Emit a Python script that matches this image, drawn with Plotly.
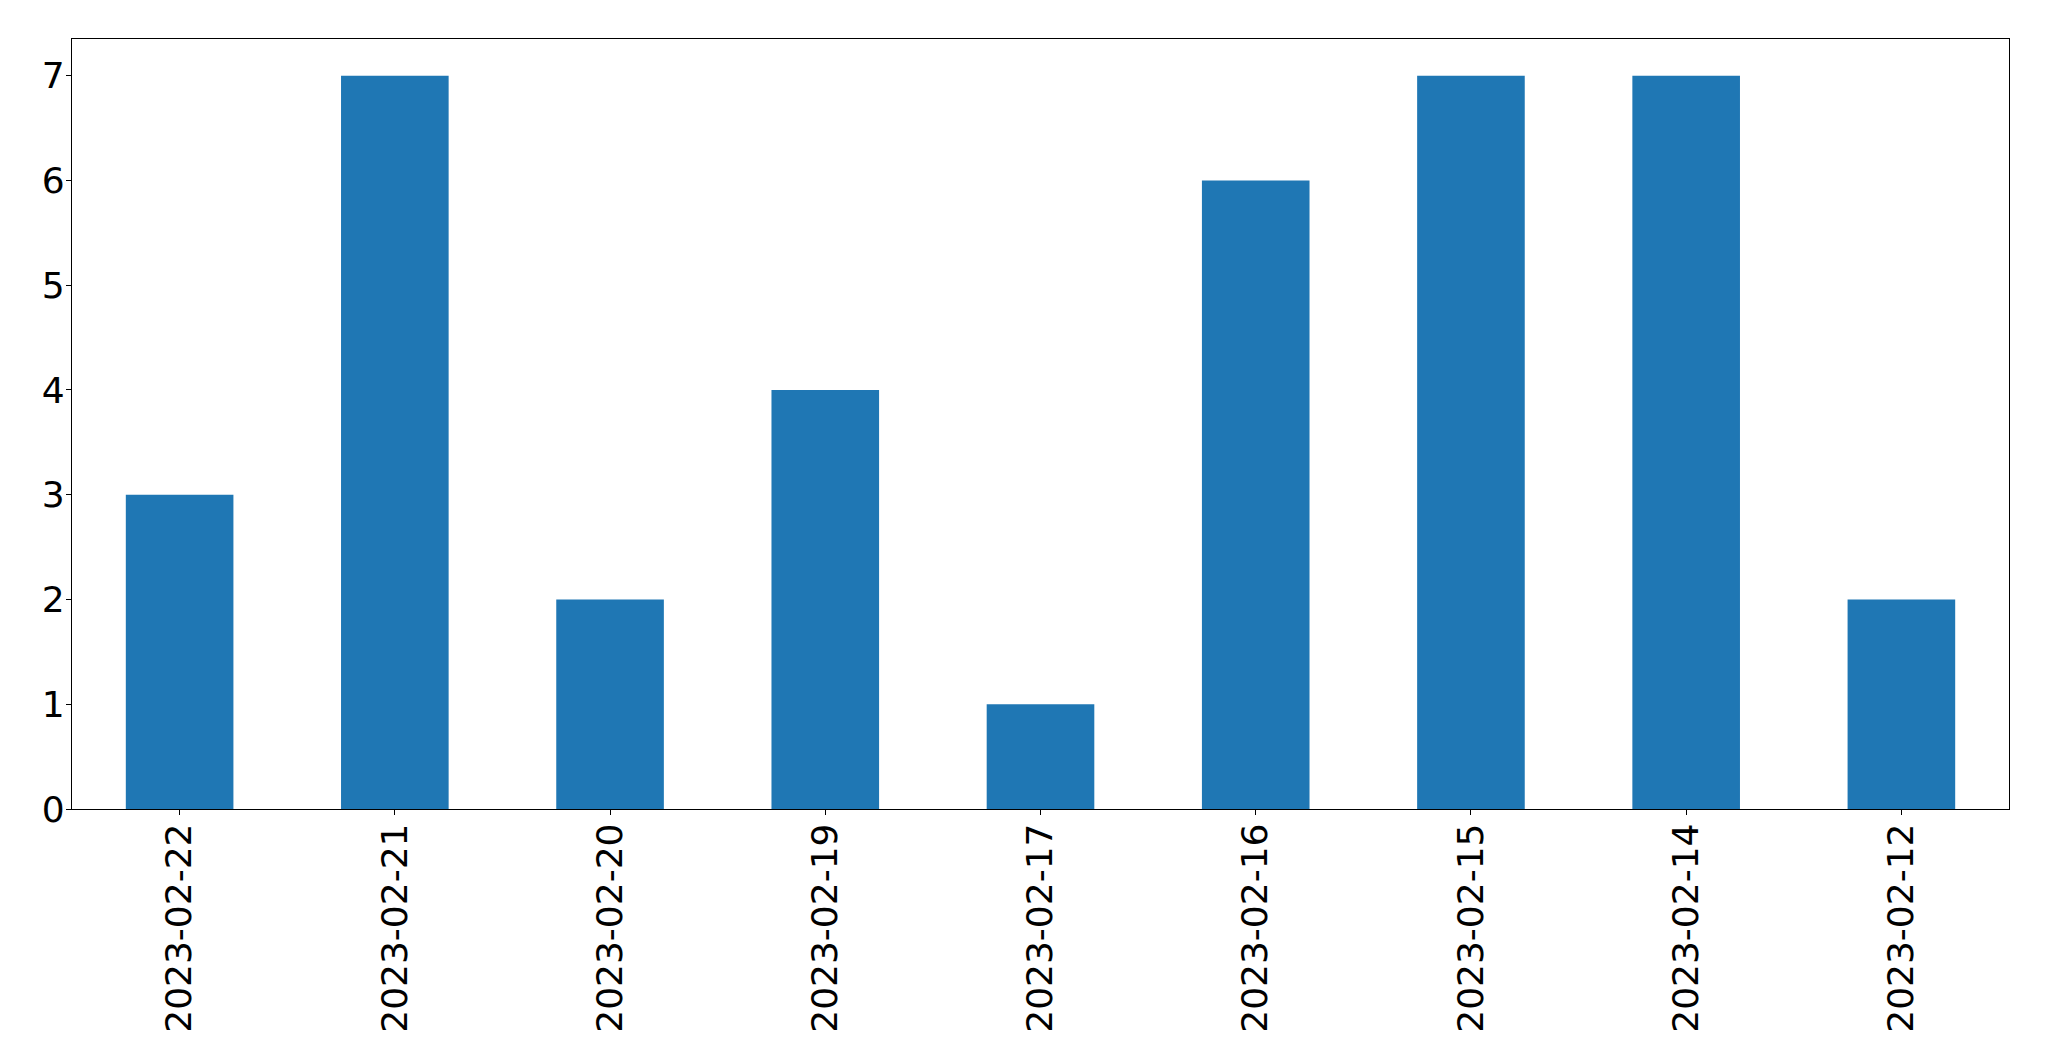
import plotly.graph_objects as go

dates = ["2023-02-22", "2023-02-21", "2023-02-20", "2023-02-19", "2023-02-17",
         "2023-02-16", "2023-02-15", "2023-02-14", "2023-02-12"]
counts = [3, 7, 2, 4, 1, 6, 7, 7, 2]
y_ticks = [0, 1, 2, 3, 4, 5, 6, 7]

fig = go.Figure(go.Bar(x=dates, y=counts, marker=dict(color="#1f77b4", line=dict(width=0))))

font = dict(family="DejaVu Sans", size=36, color="black")
fig.update_layout(
    width=2033, height=1045,
    margin=dict(l=64, r=32, t=31, b=244, pad=0),
    plot_bgcolor="white", paper_bgcolor="white",
    bargap=0.5, showlegend=False,
    font=font,
)
fig.update_xaxes(
    type="category", range=[-0.5, 8.5], tickangle=-90,
    showline=True, mirror=True, linecolor="black", linewidth=1.3,
    ticks="outside", ticklen=5, tickwidth=1.3, tickcolor="black",
    showgrid=False, tickfont=font, automargin=False, ticklabelstandoff=-6,
)
fig.update_yaxes(
    range=[0, 7.35], tickvals=y_ticks,
    showline=True, mirror=True, linecolor="black", linewidth=1.3,
    ticks="outside", ticklen=5, tickwidth=1.3, tickcolor="black",
    showgrid=False, zeroline=False, tickfont=font, automargin=False,
    ticklabelstandoff=-6,
)
fig.write_html("out.html")
